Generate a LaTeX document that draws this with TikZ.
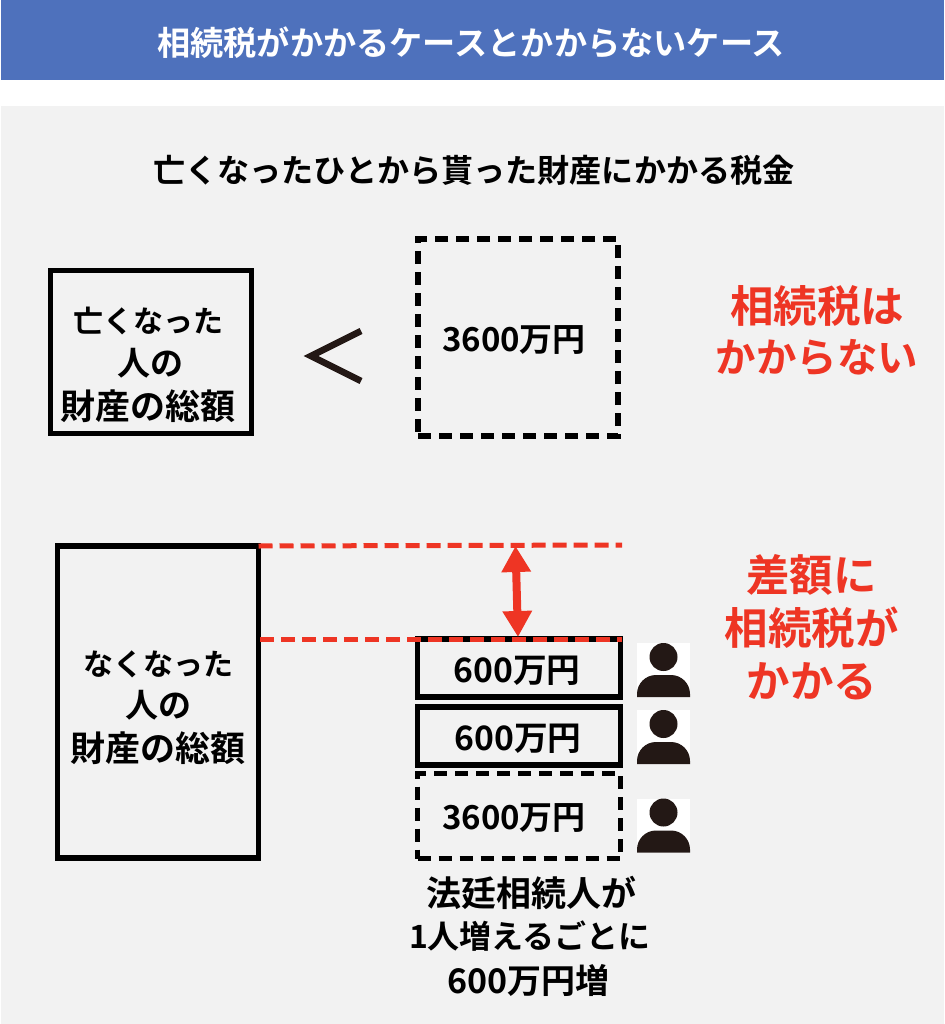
\documentclass[tikz,border=0pt]{standalone}
\usepackage{fontspec}
\setmainfont{Noto Sans CJK JP}[BoldFont={* Bold}]
\usetikzlibrary{arrows.meta}
\definecolor{hdr}{HTML}{4E71BC}
\definecolor{pane}{HTML}{F2F2F2}
\definecolor{redc}{HTML}{EE3524}
\definecolor{ink}{HTML}{231815}
\newcommand{\fs}[1]{\fontsize{#1}{10}\selectfont}
\tikzset{
  every node/.style={inner sep=0pt,outer sep=0pt,align=center},
  solidbox/.style={draw=black,line width=5.5pt,fill=none},
  dashbox/.style={draw=black,line width=5.5pt,dash pattern=on 13pt off 8pt,fill=none},
  redline/.style={draw=redc,line width=5pt,dash pattern=on 14pt off 7pt},
  dbl/.style={draw=redc,line width=8pt,{Triangle[width=28pt,length=26pt]}-{Triangle[width=28pt,length=26pt]}},
  lbl/.style={font=\bfseries,text=black},
  big/.style={font=\bfseries,text=redc},
}
\newcommand{\personicon}[3]{%
  \node[fill=white,minimum width=53pt,minimum height=54pt] (#3) at (#1,#2) {};
  \fill[ink] (#1,#2-13) circle (14pt);
  \fill[ink] (#1-26.5,#2+27) -- (#1-26.5,#2+24) arc[start angle=180,end angle=90,radius=19pt] -- (#1+7.5,#2+5) arc[start angle=90,end angle=0,radius=19pt] -- (#1+26.5,#2+27) -- cycle;
}
\begin{document}
\begin{tikzpicture}[x=1pt,y=-1pt]
\useasboundingbox (0,0) rectangle (944,1024);
\fill[white] (0,0) rectangle (944,1024);
\fill[hdr] (1,0) rectangle (944,80);
\fill[pane] (1,106) rectangle (944,1024);
\node[font=\fontsize{33.2}{40}\selectfont\bfseries,text=white] (title) at (471,43) {相続税がかかるケースとかからないケース};
\node[font=\fontsize{32.1}{40}\selectfont\bfseries,text=black] (sub) at (474,170) {亡くなったひとから貰った財産にかかる税金};
% upper row
\node[solidbox,minimum width=201pt,minimum height=163pt] (a) at (151,352) {};
\node[lbl] (a1) at (148.5,321) {\fs{30}亡くなった};
\node[lbl] (a2) at (150,363) {\fs{33}人の};
\node[lbl] (a3) at (148,406) {\fs{35}財産の総額};
\node[dashbox,minimum width=200pt,minimum height=197pt] (b) at (518,337.5) {};
\node[lbl] (b1t) at (514,340) {\fs{33}3600万円};
\draw[line width=6.5pt,draw=ink] (361,331) -- (311,356) -- (361,381);
\node[big] (r1) at (817,306) {\fs{43.5}相続税は};
\node[big] (r2) at (817,358) {\fs{40.5}かからない};
% lower row
\node[solidbox,minimum width=201pt,minimum height=312pt] (c) at (158,702) {};
\node[lbl] (c1) at (158,664) {\fs{30}なくなった};
\node[lbl] (c2) at (158,705) {\fs{33}人の};
\node[lbl] (c3) at (158,748) {\fs{35}財産の総額};
\node[solidbox,minimum width=203pt,minimum height=58pt] (d) at (519,668) {};
\node[solidbox,minimum width=203pt,minimum height=58pt] (e) at (519,736) {};
\node[dashbox,minimum width=203pt,minimum height=85pt] (f) at (519,816) {};
\node[lbl] (dt) at (517,671) {\fs{33.7}600万円};
\node[lbl] (et) at (518,739) {\fs{33.7}600万円};
\node[lbl] (ft) at (514,818) {\fs{33}3600万円};
\coordinate (t1) at (c.north east);
\coordinate (t2) at (622,545);
\coordinate (b1) at (260,639);
\coordinate (b2) at (622,639);
\draw[redline] (t1) -- (t2);
\draw[redline] (b1) -- (b2);
\coordinate (ua) at (515.5,546);
\coordinate (ub) at (518,637);
\draw[dbl] (ua) -- (ub);
\node[big] (s1) at (811.5,575) {\fs{43.5}差額に};
\node[big] (s2) at (811.5,628) {\fs{43.5}相続税が};
\node[big] (s3) at (812,681) {\fs{43.5}かかる};
\personicon{663.5}{670}{p1}
\personicon{663.5}{737}{p2}
\personicon{663.5}{825.5}{p3}
\node[lbl] (n1) at (531,893) {\fs{35}法廷相続人が};
\node[lbl] (n2) at (530,936) {\fs{32}1人増えるごとに};
\node[lbl] (n3) at (528.5,980) {\fs{34}600万円増};
\end{tikzpicture}
\end{document}
